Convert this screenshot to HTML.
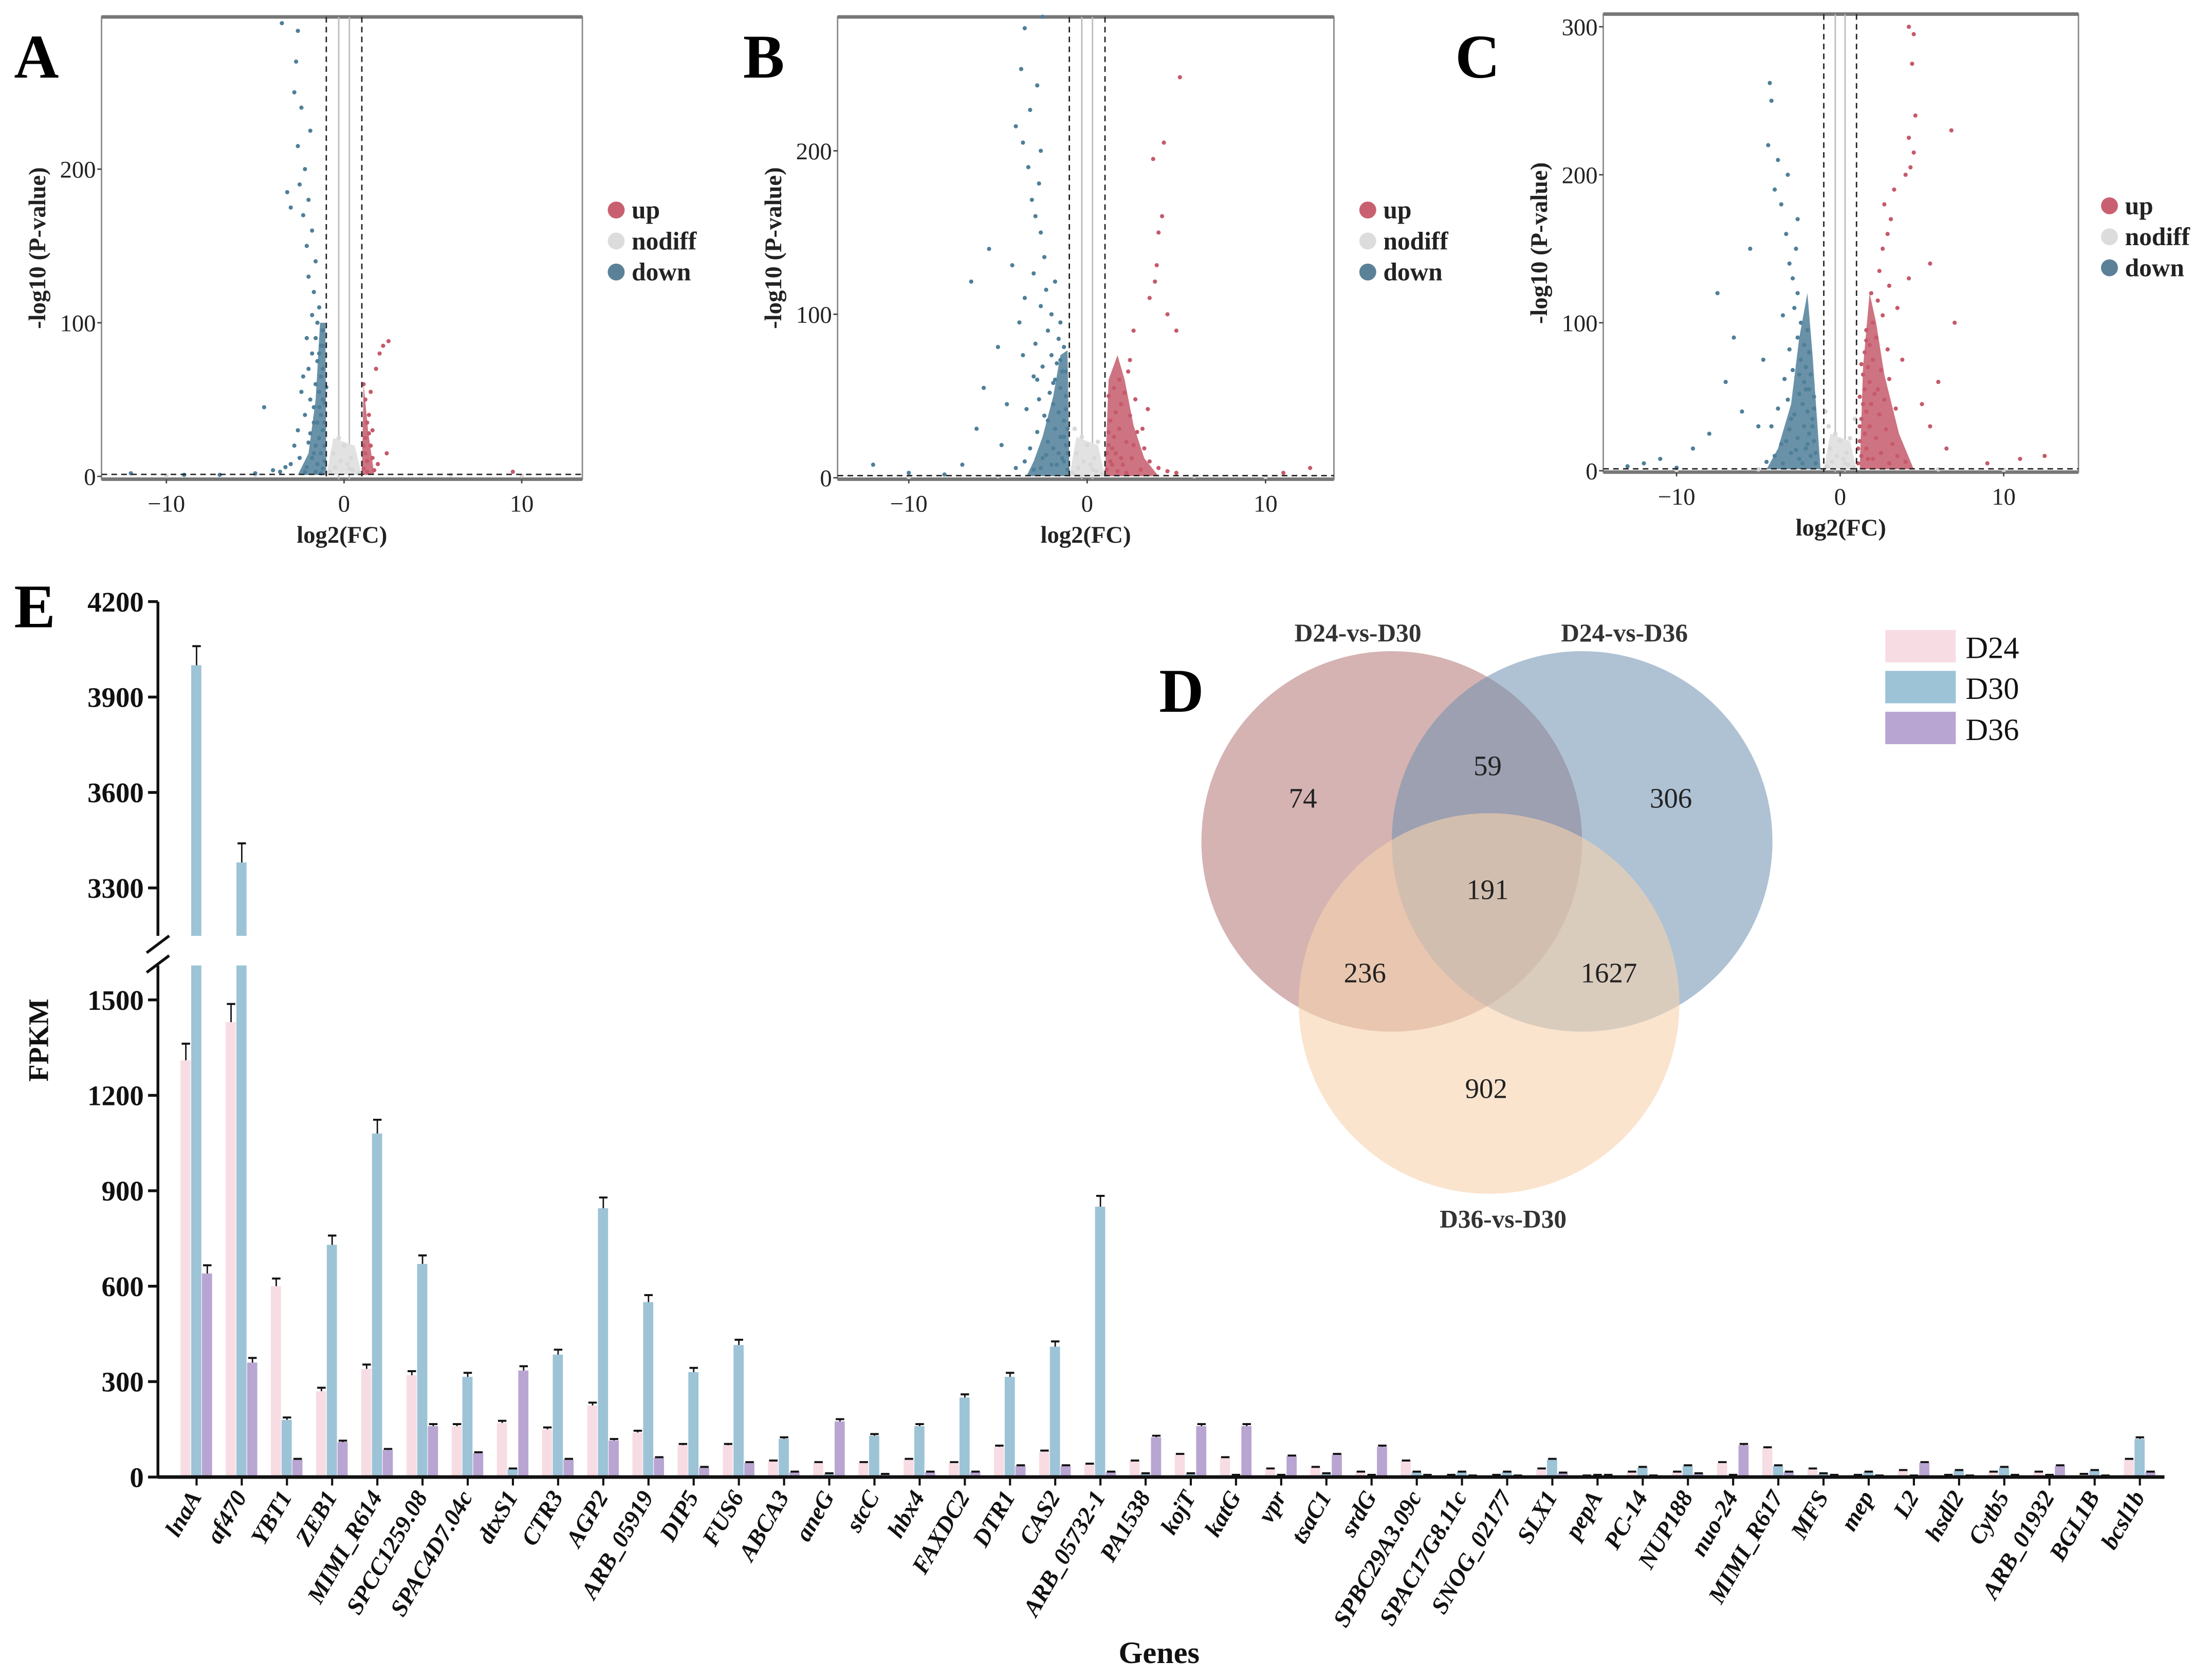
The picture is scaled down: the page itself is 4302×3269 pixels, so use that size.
<!DOCTYPE html>
<html><head><meta charset="utf-8"><style>
html,body{margin:0;padding:0;background:#fff}
svg{display:block}
text{font-family:"Liberation Serif",serif}
</style></head><body>
<svg id="fig" xmlns="http://www.w3.org/2000/svg" width="4302" height="3269" viewBox="0 0 1568 1192" preserveAspectRatio="none">
<g id="volc"></g>
<g id="bars"></g>
<g id="venn">
 <circle cx="987" cy="597" r="135" fill="#b9807f" fill-opacity="0.6"/>
 <circle cx="1122" cy="597" r="135" fill="#6d8fb0" fill-opacity="0.55"/>
 <circle cx="1056" cy="712" r="135" fill="#f6d2ad" fill-opacity="0.6"/>
 <g font-size="20" text-anchor="middle" fill="#222">
  <text x="924" y="573">74</text>
  <text x="1055" y="550">59</text>
  <text x="1185" y="573">306</text>
  <text x="1055" y="638">191</text>
  <text x="968" y="697">236</text>
  <text x="1141" y="697">1627</text>
  <text x="1054" y="779">902</text>
 </g>
 <g font-size="18" font-weight="bold" text-anchor="middle" fill="#333">
  <text x="963" y="455">D24-vs-D30</text>
  <text x="1152" y="455">D24-vs-D36</text>
  <text x="1066" y="871">D36-vs-D30</text>
 </g>
</g>
<g font-weight="bold" font-size="44" fill="#000">
 <text x="10" y="55">A</text>
 <text x="527" y="55">B</text>
 <text x="1032" y="55">C</text>
 <text x="822" y="505">D</text>
 <text x="10" y="445">E</text>
</g>
</svg>
<script>
const NS="http://www.w3.org/2000/svg";
function mk(tag,attrs,parent){const e=document.createElementNS(NS,tag);for(const k in attrs)e.setAttribute(k,attrs[k]);if(parent)parent.appendChild(e);return e;}

// ---------- Volcano data ----------
const aDown=[[-1.2,5],[-1.5,8],[-1.8,12],[-2.1,6],[-1.3,15],[-1.6,20],[-1.4,25],[-1.9,28],[-1.2,30],[-1.5,35],[-1.3,40],[-1.7,45],[-1.2,50],[-1.4,55],[-1.6,60],[-1.3,65],[-1.2,70],[-1.5,75],[-1.4,80],[-1.3,85],[-1.6,90],[-1.2,95],[-1.5,100],[-1.8,105],[-1.4,110],[-1.7,120],[-2.0,130],[-1.6,140],[-2.1,150],[-1.8,160],[-2.3,170],[-2.0,180],[-2.5,190],[-2.2,200],[-2.6,215],[-1.9,225],[-2.4,240],[-2.8,250],[-2.7,270],[-2.6,290],[-3.5,295],[-3.2,185],[-3.0,175],[-2.5,12],[-3.0,8],[-2.8,20],[-3.6,3],[-4.5,45],[-2.2,40],[-2.4,55],[-2.0,70],[-1.8,80],[-1.1,10],[-1.1,20],[-1.1,35],[-1.1,48],[-1.0,58],[-12,2],[-9,1],[-7,1],[-5,2],[-4,4],[-3.3,6],[-2.6,30],[-2.3,65],[-1.7,35],[-1.9,50],[-2.1,90],[-1.3,2],[-1.6,3],[-2.2,3],[-1.4,45],[-1.2,85],[-1.7,15],[-2.0,22]];
const aUp=[[1.1,5],[1.3,10],[1.2,15],[1.5,20],[1.2,25],[1.6,30],[1.3,35],[1.4,40],[1.2,50],[1.5,55],[1.1,60],[1.8,70],[2.0,80],[2.2,85],[2.5,88],[1.6,12],[1.9,8],[2.4,15],[9.5,3],[1.3,3],[1.7,4],[1.1,20],[1.4,28]];
const bDown=[[-1.1,5],[-1.3,10],[-1.6,15],[-2.0,8],[-2.5,12],[-3.0,5],[-3.5,10],[-4.0,6],[-1.2,20],[-1.5,25],[-1.8,30],[-2.2,22],[-2.8,28],[-3.2,18],[-1.3,35],[-1.6,40],[-1.9,45],[-2.4,38],[-1.2,50],[-1.5,55],[-1.8,60],[-2.1,52],[-2.7,48],[-3.4,42],[-1.4,65],[-1.7,70],[-2.0,75],[-2.5,68],[-3.0,62],[-1.3,80],[-1.6,85],[-2.2,90],[-2.9,82],[-1.5,95],[-2.0,100],[-2.6,105],[-3.5,110],[-2.3,115],[-1.8,120],[-3.0,125],[-2.4,135],[-4.2,130],[-5.5,140],[-2.6,150],[-2.9,160],[-3.1,170],[-2.7,180],[-3.3,190],[-2.6,200],[-3.6,205],[-4.0,215],[-3.2,225],[-2.8,240],[-3.7,250],[-3.5,275],[-2.5,282],[-6.5,120],[-5.8,55],[-6.2,30],[-4.8,20],[-7,8],[-10,3],[-12,8],[-8,2],[-1.1,30],[-1.2,42],[-1.4,12],[-1.7,8],[-1.9,18],[-2.3,14],[-2.6,6],[-4.5,45],[-5,80],[-3.8,95],[-1.2,65],[-1.5,72],[-1.9,58],[-2.2,35],[-1.1,15],[-1.3,25],[-2.8,60],[-3.6,75]];
const bUp=[[1.1,5],[1.3,10],[1.6,15],[2.0,8],[2.5,12],[3.0,5],[3.5,10],[4.0,6],[1.2,20],[1.5,25],[1.8,30],[2.2,22],[2.8,28],[3.2,18],[1.3,35],[1.6,40],[1.9,45],[2.4,38],[1.2,50],[1.5,55],[1.8,60],[2.1,52],[2.7,48],[3.4,42],[2.3,65],[2.4,72],[1.1,15],[1.4,8],[1.7,4],[2.2,3],[4.5,4],[5,3],[3.8,120],[4.0,150],[4.2,160],[3.7,195],[4.3,205],[4.5,100],[3.5,110],[5.2,245],[5.0,90],[2.6,90],[3.9,130],[12.5,6],[11,3],[1.2,28],[1.4,18],[1.9,12],[2.6,20],[3.1,30]];
const cDown=[[-1.5,5],[-1.8,10],[-2.1,15],[-2.5,8],[-3.0,12],[-3.5,5],[-4.0,10],[-4.5,6],[-1.6,20],[-1.9,25],[-2.2,30],[-2.6,22],[-3.1,28],[-3.6,18],[-1.7,35],[-2.0,40],[-2.3,45],[-2.8,38],[-1.6,50],[-1.9,55],[-2.2,60],[-2.5,52],[-3.2,48],[-3.8,42],[-1.8,65],[-2.1,70],[-2.4,75],[-2.9,68],[-3.4,62],[-1.9,80],[-2.2,85],[-2.6,90],[-3.1,82],[-2.0,95],[-2.4,100],[-2.8,110],[-3.5,105],[-2.6,120],[-2.9,130],[-3.1,140],[-2.7,150],[-3.3,160],[-2.6,170],[-3.6,180],[-4.0,190],[-3.2,200],[-3.8,210],[-4.2,250],[-4.3,262],[-4.4,220],[-5.5,150],[-7.5,120],[-6.5,90],[-7,60],[-6,40],[-8,25],[-9,15],[-11,8],[-12,5],[-13,3],[-10,2],[-5,30],[-4.7,75],[-1.5,12],[-1.7,30],[-2.0,18],[-2.3,5],[-2.7,14],[-3.3,20],[-4.2,30],[-1.6,42],[-2.1,55],[-2.5,65],[-3.0,35]];
const cUp=[[1.1,5],[1.3,10],[1.6,15],[2.0,8],[2.5,12],[3.0,5],[3.5,10],[4.0,6],[1.2,20],[1.5,25],[1.8,30],[2.2,22],[2.8,28],[3.2,18],[1.3,35],[1.6,40],[1.9,45],[2.4,38],[1.2,50],[1.5,55],[1.8,60],[2.1,52],[2.7,48],[3.4,42],[1.4,65],[1.7,70],[2.0,75],[2.5,68],[3.0,62],[1.5,80],[1.8,85],[2.2,90],[2.9,82],[1.6,95],[2.0,100],[2.6,105],[3.5,110],[2.3,115],[1.9,120],[3.0,125],[2.4,135],[4.2,130],[5.5,140],[2.6,150],[2.9,160],[3.1,170],[2.7,180],[3.3,190],[4.0,200],[4.3,205],[4.5,215],[4.2,225],[4.6,240],[4.4,275],[4.5,295],[4.2,300],[6.8,230],[7,100],[6,60],[5.5,30],[6.5,15],[9,5],[11,8],[12.5,10],[1.1,15],[1.2,30],[1.4,45],[1.7,8],[2.3,55],[3.8,75],[5,45],[1.3,72],[1.6,88]];
const aNo=[[-0.8,3],[-0.5,6],[-0.2,10],[0.2,8],[0.5,4],[0.8,2],[-0.6,15],[0.4,12],[0,20],[-0.3,25],[0.3,5],[-5,1],[6,1],[-10,0.5],[10,0.5]];
const bNo=[[-0.8,3],[-0.5,6],[-0.2,10],[0.2,8],[0.5,4],[0.8,2],[-0.6,15],[0.4,12],[0,20],[-0.3,25],[0.3,5],[-0.7,30],[0.6,22],[-5,1],[6,1],[-10,0.5],[10,0.5]];
const cNo=[[-0.8,3],[-0.5,6],[-0.2,10],[0.2,8],[0.5,4],[0.8,2],[-0.6,15],[0.4,12],[0,20],[-0.3,25],[0.3,5],[-0.7,30],[0.6,22],[-0.9,40],[0.9,35],[-5,1],[6,1],[-10,0.5],[10,0.5]];
// dense-core outlines (log2FC, -log10P)
const aDownCore=[[-1,1],[-2.6,1],[-2.0,15],[-1.6,50],[-1.35,100],[-1.05,100],[-1,1]];
const aUpCore=[[1,1],[1.7,1],[1.35,30],[1.1,60],[1,1]];
const bDownCore=[[-1,1],[-3.4,1],[-3.0,10],[-2.5,25],[-1.9,50],[-1.5,75],[-1.1,78],[-1,1]];
const bUpCore=[[1,1],[4.0,1],[3.2,12],[2.6,32],[2.1,60],[1.7,75],[1.2,60],[1,1]];
const cDownCore=[[-1.2,1],[-4.5,1],[-3.8,15],[-3.0,45],[-2.5,90],[-2.0,120],[-1.7,80],[-1.2,1]];
const cUpCore=[[1.2,1],[4.5,1],[3.6,25],[2.7,65],[2.2,100],[1.8,120],[1.4,70],[1.2,1]];
const noCore=[[-1,1],[1,1],[0.6,20],[-0.6,25],[-1,1]];
const volcYTicks=[[0,100,200],[0,100,200],[0,100,200,300]];
const volcXTicks=[-10,0,10];

const panels=[
 {id:"a",bx:72,by:12,bw:341,bh:328,x0:244,xs:12.6,y0:338,ys:1.09,down:aDown,up:aUp,no:aNo,dc:aDownCore,uc:aUpCore,lx:437,ly:149},
 {id:"b",bx:594,by:12,bw:352,bh:328,x0:771,xs:12.65,y0:339,ys:1.16,down:bDown,up:bUp,no:bNo,dc:bDownCore,uc:bUpCore,lx:970,ly:149},
 {id:"c",bx:1137,by:10,bw:337,bh:325,x0:1305,xs:11.6,y0:334,ys:1.05,down:cDown,up:cUp,no:cNo,dc:cDownCore,uc:cUpCore,lx:1496,ly:146}
];
const volc=document.getElementById('volc');
panels.forEach((p,pi)=>{
 const g=mk('g',{},volc);
 
 
 const X=v=>p.x0+v*p.xs, Y=v=>p.y0-v*p.ys;
 const poly=arr=>arr.map(d=>X(d[0])+','+Y(d[1])).join(' ');
 const box=mk('rect',{x:p.bx,y:p.by,width:p.bw,height:p.bh,fill:'none',stroke:'#888','stroke-width':1},g);
 
 
 mk('line',{x1:p.bx,x2:p.bx+p.bw,y1:p.by,y2:p.by,stroke:'#777','stroke-width':2.5},g);
 mk('line',{x1:p.bx,x2:p.bx+p.bw,y1:p.by+p.bh,y2:p.by+p.bh,stroke:'#777','stroke-width':2.5},g);
 [-0.3,0.3].forEach(v=>mk('line',{x1:X(v),x2:X(v),y1:p.by,y2:p.by+p.bh,stroke:'#bbb','stroke-width':1},g));
 const pts=mk('g',{},g);
 
 
 mk('polygon',{points:poly(noCore),fill:'#e2e2e2'},pts);
 const dcp=mk('polygon',{points:poly(p.dc),fill:'#4f7f99','fill-opacity':0.85},pts);
 
 
 const ucp=mk('polygon',{points:poly(p.uc),fill:'#c55a6b','fill-opacity':0.85},pts);
 
 
 p.no.forEach(d=>mk('circle',{cx:X(d[0]),cy:Y(d[1]),r:1.6,fill:'#d8d8d8'},pts));
 p.down.forEach(d=>mk('circle',{cx:X(d[0]),cy:Y(d[1]),r:1.5,fill:'#4f7f99'},pts));
 p.up.forEach(d=>mk('circle',{cx:X(d[0]),cy:Y(d[1]),r:1.5,fill:'#c55a6b'},pts));
 [-1,1].forEach(v=>mk('line',{x1:X(v),x2:X(v),y1:p.by,y2:p.by+p.bh,stroke:'#222','stroke-width':1,'stroke-dasharray':'4,3'},g));
 mk('line',{x1:p.bx,x2:p.bx+p.bw,y1:Y(1.3),y2:Y(1.3),stroke:'#222','stroke-width':1,'stroke-dasharray':'4,3'},g);
 volcYTicks[pi].forEach(t=>{
  mk('line',{x1:p.bx-3,x2:p.bx,y1:Y(t),y2:Y(t),stroke:'#444'},g);
  const tx=mk('text',{x:p.bx-4,y:Y(t)+6,'font-size':17,'text-anchor':'end',fill:'#222'},g);
  tx.textContent=t;
  
  
 });
 volcXTicks.forEach(t=>{
  mk('line',{x1:X(t),x2:X(t),y1:p.by+p.bh,y2:p.by+p.bh+3,stroke:'#444'},g);
  const tx=mk('text',{x:X(t),y:p.by+p.bh+23,'font-size':17,'text-anchor':'middle',fill:'#222'},g);
  tx.textContent=t<0?'\u2212'+(-t):t;
  
  
 });
 const xt=mk('text',{x:p.bx+p.bw/2,y:p.by+p.bh+45,'font-size':17,'font-weight':'bold','text-anchor':'middle',fill:'#222'},g);
 xt.textContent='log2(FC)';
 
 
 const yt=mk('text',{x:0,y:0,'font-size':17,'font-weight':'bold','text-anchor':'middle',fill:'#222',transform:`translate(${p.bx-40},${p.by+p.bh/2}) rotate(-90)`},g);
 yt.textContent='-log10 (P-value)';
 
 
 const lg=mk('g',{},g);
 
 
 [['up','#c96071'],['nodiff','#dcdcdc'],['down','#5b8199']].forEach((e,i)=>{
  mk('circle',{cx:p.lx,cy:p.ly+i*22,r:6,fill:e[1]},lg);
  const t=mk('text',{x:p.lx+11,y:p.ly+i*22+6,'font-size':18,'font-weight':'bold',fill:'#222'},lg);
  t.textContent=e[0];
  
  
 });
});

// ---------- Bar chart data ----------
const genes=["lnaA","af470","YBT1","ZEB1","MIMI_R614","SPCC1259.08","SPAC4D7.04c","dtxS1","CTR3","AGP2","ARB_05919","DIP5","FUS6","ABCA3","aneG","stcC","hbx4","FAXDC2","DTR1","CAS2","ARB_05732-1","PA1538","kojT","katG","vpr","tsaC1","srdG","SPBC29A3.09c","SPAC17G8.11c","SNOG_02177","SLX1","pepA","PC-14","NUP188","nuo-24","MIMI_R617","MFS","mep","L2","hsdl2","Cytb5","ARB_01932","BGL1B","bcsl1b"];
const d24=[1310,1430,600,270,340,320,160,170,150,225,140,100,100,50,45,45,55,45,95,80,40,50,70,60,25,30,15,50,5,5,25,3,15,15,45,90,25,5,20,5,15,15,8,55];
const d30=[4000,3380,180,730,1080,670,315,25,385,845,550,330,415,120,10,130,160,250,315,410,850,10,10,5,5,10,5,15,15,15,55,5,30,35,5,35,10,15,3,20,30,5,20,120];
const d36=[640,360,55,110,85,160,75,335,55,115,60,30,45,15,175,8,15,15,35,35,15,125,160,160,65,70,95,5,3,3,12,5,3,10,100,15,5,3,45,3,5,35,3,15];
const yTicksLow=[0,300,600,900,1200,1500];
const yTicksHigh=[3300,3600,3900,4200];
const series=[["D24",d24,"#f7dde3"],["D30",d30,"#9dc3d6"],["D36",d36,"#b9a5d2"]];

const bars=document.getElementById('bars');
const AX=112, K=0.2257;
const yScale=v=>v<=1608?1048-v*K:630-(v-3300)*K;
const xGroup=i=>128+i*32.05;
const bw=7.6;
const bg=mk('g',{},bars);


series.forEach((s,si)=>{
 s[1].forEach((v,i)=>{
  const x=xGroup(i)+si*bw, y=yScale(v);
  const r=mk('rect',{x:x,y:y,width:bw-0.4,height:1048-y,fill:s[2]},bg);
  
  
  const e=Math.min(Math.max(v*0.04,2),60), ye=yScale(v+e);
  mk('line',{x1:x+bw/2,x2:x+bw/2,y1:y,y2:ye,stroke:'#111','stroke-width':1},bg);
  mk('line',{x1:x+bw/2-3,x2:x+bw/2+3,y1:ye,y2:ye,stroke:'#111','stroke-width':1.4},bg);
 });
});
mk('rect',{x:AX+1,y:664,width:100,height:21,fill:'#fff'},bg);
mk('line',{x1:AX,x2:AX,y1:427,y2:664,stroke:'#111','stroke-width':2},bg);
mk('line',{x1:AX,x2:AX,y1:685,y2:1048,stroke:'#111','stroke-width':2},bg);
mk('line',{x1:AX-8,x2:AX+8,y1:676,y2:664,stroke:'#111','stroke-width':2},bg);
mk('line',{x1:AX-8,x2:AX+8,y1:690,y2:678,stroke:'#111','stroke-width':2},bg);
mk('line',{x1:AX,x2:1535,y1:1048,y2:1048,stroke:'#111','stroke-width':2.5},bg);
yTicksLow.concat(yTicksHigh).forEach(t=>{
 const y=yScale(t);
 mk('line',{x1:AX-7,x2:AX,y1:y,y2:y,stroke:'#111','stroke-width':2},bg);
 const tx=mk('text',{x:AX-10,y:y+7,'font-size':20,'font-weight':'bold','text-anchor':'end',fill:'#111'},bg);
 tx.textContent=t;
 
 
});
genes.forEach((gname,i)=>{
 const cx=xGroup(i)+bw*1.5;
 mk('line',{x1:cx,x2:cx,y1:1048,y2:1054,stroke:'#111','stroke-width':1.5},bg);
 const tx=mk('text',{x:0,y:0,'font-size':17,'font-style':'italic','font-weight':'bold','text-anchor':'end',fill:'#111',transform:`translate(${cx+4},${1062}) rotate(-60)`},bg);
 tx.textContent=gname;
 
 
});
const ytl=mk('text',{x:0,y:0,'font-size':20,'font-weight':'bold','text-anchor':'middle',fill:'#111',transform:'translate(34,738) rotate(-90)'},bg);
ytl.textContent='FPKM';


const xtl=mk('text',{x:822,y:1180,'font-size':22,'font-weight':'bold','text-anchor':'middle',fill:'#111'},bg);
xtl.textContent='Genes';


const leg=mk('g',{},bg);


series.forEach((s,i)=>{
 mk('rect',{x:1337,y:447+i*29,width:50,height:23,fill:s[2]},leg);
 const t=mk('text',{x:1394,y:467+i*29,'font-size':22,fill:'#111'},leg);
 t.textContent=s[0];
 
 
});
</script>
</body></html>
